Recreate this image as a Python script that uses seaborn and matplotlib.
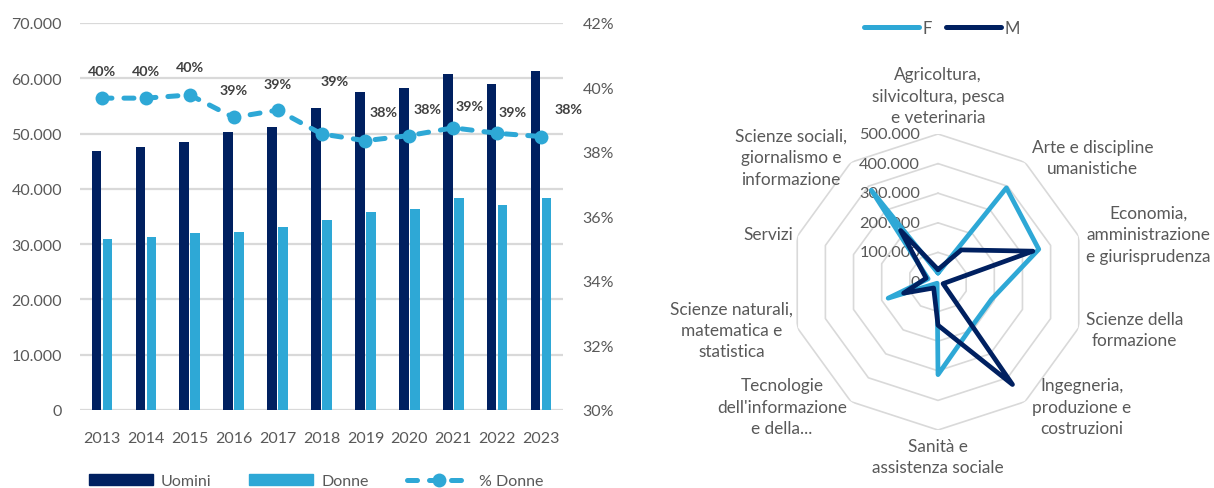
import numpy as np
import pandas as pd
import matplotlib
matplotlib.use("Agg")
import matplotlib.pyplot as plt
import seaborn as sns
from matplotlib.lines import Line2D
from matplotlib.patches import Patch

sns.set_theme(style="white")
plt.rcParams['font.family'] = ['Lato', 'DejaVu Sans']

# ---------------- data ----------------
years = ["2013", "2014", "2015", "2016", "2017", "2018", "2019", "2020", "2021", "2022", "2023"]
uomini = [46870, 47590, 48550, 50300, 51270, 54700, 57470, 58190, 60720, 58980, 61270]
donne = [30840, 31270, 32050, 32230, 33190, 34340, 35780, 36390, 38370, 37050, 38310]
pct_donne = [39.67, 39.67, 39.77, 39.07, 39.30, 38.56, 38.35, 38.51, 38.75, 38.58, 38.48]
pct_labels = ["40%", "40%", "40%", "39%", "39%", "39%", "38%", "38%", "39%", "39%", "38%"]

radar_cats = ["Agricoltura,\nsilvicoltura, pesca\ne veterinaria",
              "Arte e discipline\numanistiche",
              "Economia,\namministrazione\ne giurisprudenza",
              "Scienze della\nformazione",
              "Ingegneria,\nproduzione e\ncostruzioni",
              "Sanità e\nassistenza sociale",
              "Tecnologie\ndell'informazione\ne della...",
              "Scienze naturali,\nmatematica e\nstatistica",
              "Servizi",
              "Scienze sociali,\ngiornalismo e\ninformazione"]
radar_f = [30000, 393000, 358000, 190000, 190000, 313000, 5000, 177000, 35000, 383000]
radar_m = [42000, 134000, 337000, 18000, 428000, 146000, 25000, 122000, 42000, 215000]
radar_ticks = [0, 100000, 200000, 300000, 400000, 500000]
radar_tick_labels = ["0", "100.000", "200.000", "300.000", "400.000", "500.000"]

# ---------------- style ----------------
DARK = "#002060"
LIGHT = "#2EA8D6"
GRID = "#D9D9D9"
TXT = "#595959"
LBL = "#404040"

W, H = 1214, 489
fig = plt.figure(figsize=(W / 100, H / 100), dpi=100)

# ---------------- left: bars + line ----------------
ax = fig.add_axes([80 / W, 1 - 411 / H, (563 - 80) / W, (411 - 24) / H])
df = pd.DataFrame({
    "Anno": years * 2,
    "Valore": uomini + donne,
    "Genere": ["Uomini"] * len(years) + ["Donne"] * len(years),
})
sns.barplot(data=df, x="Anno", y="Valore", hue="Genere", order=years,
            hue_order=["Uomini", "Donne"], palette=[DARK, LIGHT],
            width=0.5, gap=0.12, ax=ax, legend=False, saturation=1, linewidth=0)
ax.set_ylim(0, 70000)
ax.set_xlim(-0.5, len(years) - 0.5)
ax.set_yticks(range(0, 70001, 10000))
ax.set_yticklabels([f"{v:,}".replace(",", ".") for v in range(0, 70001, 10000)])
ax.yaxis.grid(True, color=GRID, linewidth=1.6)
ax.set_axisbelow(True)
for s in ax.spines.values():
    s.set_visible(False)
ax.set_xlabel("")
ax.set_ylabel("")
ax.tick_params(axis="both", length=0, labelsize=11.5, labelcolor=TXT)
ax.tick_params(axis="y", pad=13)
ax.tick_params(axis="x", pad=15)

ax2 = ax.twinx()
idx = np.arange(len(years))
sns.lineplot(x=idx, y=pct_donne, ax=ax2, color=LIGHT, linewidth=3.6,
             marker="o", markersize=10, markeredgewidth=0,
             dashes=False, legend=False)
ln = ax2.lines[0]
ln.set_linestyle((0, (2.0, 2.4)))
ln.set_dash_capstyle("round")
ax2.set_ylim(30, 42)
ax2.set_yticks(range(30, 43, 2))
ax2.set_yticklabels([f"{v}%" for v in range(30, 43, 2)])
ax2.tick_params(axis="y", length=0, labelsize=11.5, labelcolor=TXT, pad=14)
for s in ax2.spines.values():
    s.set_visible(False)
ax2.set_xlim(-0.5, len(years) - 0.5)

lab_off = [(0, 27), (0, 27), (0, 28), (0, 27), (0, 26), (13, 53),
           (18, 29), (18, 27), (16, 22), (15, 21), (28, 28)]
for i, (v, t) in enumerate(zip(pct_donne, pct_labels)):
    ax2.annotate(t, (i, v), xytext=lab_off[i], textcoords="offset pixels",
                 ha="center", va="center", fontsize=10.3, fontweight="bold", color=LBL)

handles = [Patch(color=DARK, label="Uomini"), Patch(color=LIGHT, label="Donne"),
           Line2D([0], [0], color=LIGHT, lw=3.6, linestyle=(0, (2.0, 2.4)),
                  dash_capstyle="round", marker="o", markersize=10,
                  markeredgewidth=0, label="% Donne")]
fig.legend(handles=handles, loc="center", bbox_to_anchor=(316 / W, 1 - 482 / H),
           ncol=3, frameon=False, fontsize=11.5, labelcolor=TXT,
           handlelength=4.0, handleheight=0.75, handletextpad=0.5, columnspacing=2.4)

# ---------------- right: radar ----------------
cx, cy, R = 938, 283, 148
rax = fig.add_axes([(cx - R) / W, 1 - (cy + R) / H, 2 * R / W, 2 * R / H], projection="polar")
rax.set_theta_zero_location("N")
rax.set_theta_direction(-1)
rax.set_ylim(0, 500000)
rax.grid(False)
rax.spines["polar"].set_visible(False)
rax.set_xticks([])
rax.set_yticks([])
rax.patch.set_alpha(0)

n = len(radar_cats)
ang = np.arange(n) * 2 * np.pi / n
ang_c = np.append(ang, ang[0])
for r in radar_ticks[1:]:
    rax.plot(ang_c, [r] * (n + 1), color=GRID, linewidth=1.2, zorder=1)

sns.lineplot(x=ang_c, y=np.append(radar_f, radar_f[0]), ax=rax, color=LIGHT,
             linewidth=3.4, sort=False, estimator=None, legend=False, zorder=3)
sns.lineplot(x=ang_c, y=np.append(radar_m, radar_m[0]), ax=rax, color=DARK,
             linewidth=3.4, sort=False, estimator=None, legend=False, zorder=4)
for l in rax.lines[-2:]:
    l.set_solid_joinstyle("round")
    l.set_solid_capstyle("round")

for r, t in zip(radar_ticks, radar_tick_labels):
    rax.annotate(t, (0, r), xytext=(-18, 0), textcoords="offset pixels",
                 ha="right", va="center", fontsize=11.8, color=TXT, zorder=2)

for a, lab in zip(ang, radar_cats):
    s, c = np.sin(a), np.cos(a)
    if s > 0.1:
        ha, dx = "left", 7
    elif s < -0.1:
        ha, dx = "right", -4
    else:
        ha, dx = "center", 0
    if c > 0.95:
        va, dy = "bottom", 9
    elif c < -0.95:
        va, dy = "top", -8
    else:
        va, dy = "center", 6 * c
    rax.annotate(lab, (a, 500000), xytext=(dx, dy), textcoords="offset pixels",
                 ha=ha, va=va, multialignment="center", fontsize=12.4,
                 color=TXT, linespacing=1.42, annotation_clip=False)

rh = [Line2D([0], [0], color=LIGHT, lw=3.6, solid_capstyle="round", label="F"),
      Line2D([0], [0], color=DARK, lw=3.6, solid_capstyle="round", label="M")]
fig.legend(handles=rh, loc="center", bbox_to_anchor=(942 / W, 1 - 29 / H),
           ncol=2, frameon=False, fontsize=12, labelcolor=TXT,
           handlelength=3.3, handletextpad=0.2, columnspacing=0.9)

fig.savefig("out.png", dpi=100)
